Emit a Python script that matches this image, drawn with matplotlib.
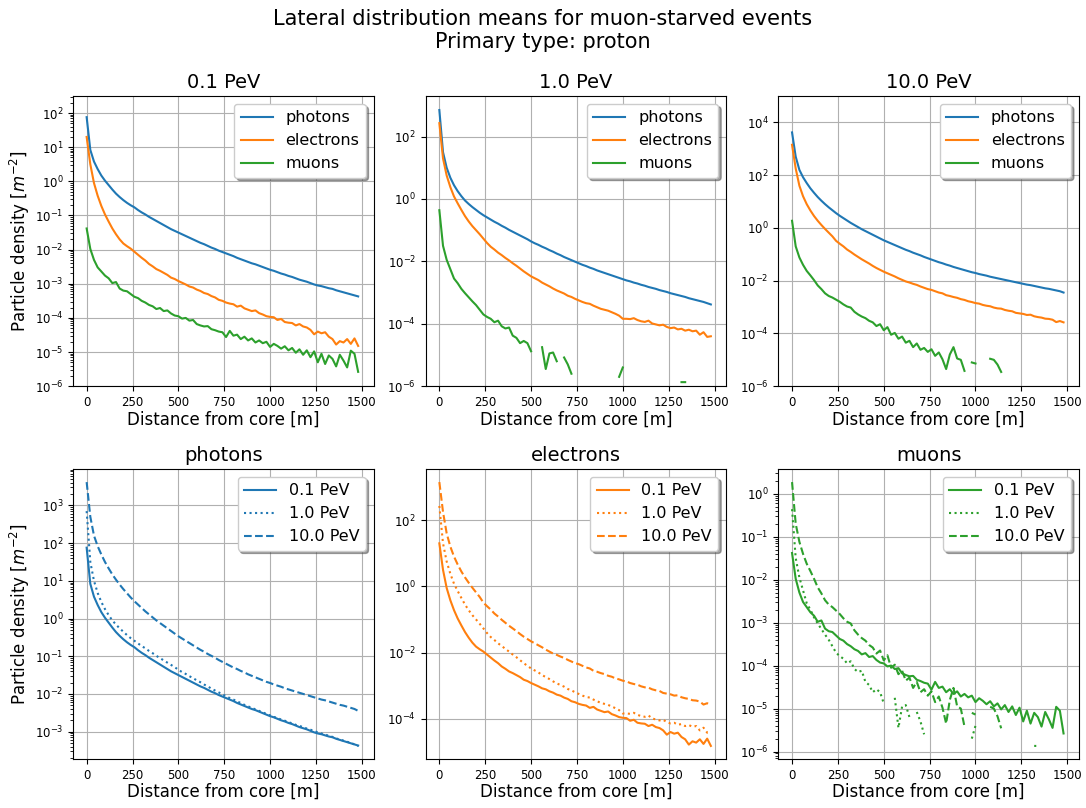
import numpy as np
import matplotlib.pyplot as plt
from matplotlib.ticker import LogLocator, NullLocator

# distance bins [m]
distance = np.arange(0, 1500, 20)
energies = ['0.1 PeV', '1.0 PeV', '10.0 PeV']
particles = ['photons', 'electrons', 'muons']

# log10 of mean particle density [m^-2]
photons_01 = [1.88, 0.92, 0.58, 0.36, 0.17, 0.02, -0.11, -0.24, -0.36, -0.46,
              -0.55, -0.63, -0.70, -0.76, -0.84, -0.91, -0.97, -1.04, -1.10, -1.16,
              -1.22, -1.28, -1.34, -1.40, -1.45, -1.50, -1.55, -1.60, -1.65, -1.70,
              -1.75, -1.80, -1.84, -1.89, -1.94, -1.98, -2.03, -2.07, -2.11, -2.15,
              -2.19, -2.24, -2.28, -2.32, -2.36, -2.40, -2.43, -2.47, -2.51, -2.55,
              -2.59, -2.62, -2.66, -2.70, -2.73, -2.77, -2.80, -2.84, -2.88, -2.91,
              -2.94, -2.98, -3.02, -3.05, -3.07, -3.10, -3.13, -3.15, -3.19, -3.22,
              -3.25, -3.28, -3.31, -3.34, -3.37]
photons_1 = [2.85, 1.50, 1.00, 0.68, 0.44, 0.25, 0.09, -0.05, -0.16, -0.26,
             -0.35, -0.44, -0.52, -0.59, -0.66, -0.73, -0.79, -0.86, -0.92, -0.99,
             -1.05, -1.11, -1.17, -1.23, -1.29, -1.36, -1.42, -1.47, -1.53, -1.58,
             -1.64, -1.69, -1.75, -1.80, -1.86, -1.91, -1.96, -2.01, -2.06, -2.11,
             -2.15, -2.20, -2.24, -2.29, -2.33, -2.37, -2.41, -2.45, -2.49, -2.53,
             -2.57, -2.61, -2.64, -2.68, -2.71, -2.75, -2.78, -2.82, -2.85, -2.88,
             -2.92, -2.95, -2.98, -3.02, -3.05, -3.08, -3.11, -3.14, -3.18, -3.21,
             -3.24, -3.27, -3.30, -3.34, -3.38]
photons_10 = [3.62, 2.70, 2.20, 1.92, 1.70, 1.50, 1.33, 1.17, 1.03, 0.90,
              0.78, 0.67, 0.56, 0.46, 0.37, 0.28, 0.19, 0.11, 0.03, -0.05,
              -0.12, -0.19, -0.26, -0.33, -0.40, -0.47, -0.53, -0.59, -0.65, -0.71,
              -0.77, -0.83, -0.88, -0.94, -0.99, -1.04, -1.10, -1.15, -1.20, -1.25,
              -1.30, -1.34, -1.39, -1.43, -1.48, -1.52, -1.56, -1.60, -1.64, -1.68,
              -1.71, -1.75, -1.78, -1.81, -1.85, -1.88, -1.91, -1.94, -1.97, -2.00,
              -2.03, -2.06, -2.09, -2.12, -2.15, -2.17, -2.20, -2.23, -2.26, -2.29,
              -2.31, -2.34, -2.37, -2.40, -2.45]

electrons_01 = [1.30, 0.50, -0.05, -0.42, -0.72, -0.97, -1.18, -1.38, -1.55, -1.70,
                -1.82, -1.90, -1.97, -2.06, -2.15, -2.24, -2.32, -2.42, -2.49, -2.57,
                -2.62, -2.68, -2.74, -2.82, -2.86, -2.92, -2.97, -3.02, -3.08, -3.11,
                -3.17, -3.21, -3.27, -3.30, -3.36, -3.40, -3.47, -3.50, -3.55, -3.58,
                -3.60, -3.67, -3.64, -3.72, -3.76, -3.80, -3.78, -3.86, -3.90, -3.95,
                -3.97, -3.98, -4.06, -4.03, -4.12, -4.14, -4.15, -4.22, -4.18, -4.25,
                -4.28, -4.35, -4.48, -4.40, -4.45, -4.42, -4.55, -4.62, -4.78, -4.68,
                -4.72, -4.62, -4.76, -4.60, -4.82]
electrons_1 = [2.43, 1.30, 0.75, 0.38, 0.08, -0.14, -0.35, -0.55, -0.72, -0.87,
               -1.00, -1.13, -1.27, -1.41, -1.53, -1.62, -1.72, -1.80, -1.89, -1.97,
               -2.06, -2.14, -2.23, -2.32, -2.40, -2.48, -2.54, -2.60, -2.68, -2.74,
               -2.80, -2.87, -2.93, -2.98, -3.03, -3.10, -3.14, -3.20, -3.25, -3.30,
               -3.34, -3.36, -3.42, -3.47, -3.52, -3.55, -3.58, -3.63, -3.68, -3.74,
               -3.84, -3.84, -3.85, -3.82, -3.88, -3.92, -3.94, -3.90, -3.99, -4.02,
               -4.05, -4.03, -4.10, -4.14, -4.12, -4.18, -4.16, -4.22, -4.19, -4.24,
               -4.22, -4.35, -4.27, -4.42, -4.40]
electrons_10 = [3.15, 2.25, 1.60, 1.20, 0.90, 0.66, 0.45, 0.27, 0.11, -0.04,
                -0.18, -0.32, -0.49, -0.60, -0.70, -0.82, -0.91, -1.01, -1.10, -1.19,
                -1.27, -1.35, -1.44, -1.52, -1.59, -1.66, -1.72, -1.78, -1.84, -1.91,
                -1.97, -2.03, -2.07, -2.12, -2.16, -2.22, -2.27, -2.32, -2.35, -2.40,
                -2.45, -2.48, -2.55, -2.58, -2.62, -2.65, -2.70, -2.73, -2.78, -2.81,
                -2.85, -2.87, -2.92, -2.95, -2.97, -3.02, -3.05, -3.06, -3.11, -3.14,
                -3.16, -3.22, -3.24, -3.26, -3.30, -3.29, -3.35, -3.38, -3.40, -3.44,
                -3.45, -3.48, -3.57, -3.53, -3.58]

nan = np.nan
muons_01 = [-1.38, -1.98, -2.30, -2.52, -2.64, -2.76, -2.84, -2.98, -2.95, -3.14,
            -3.20, -3.22, -3.30, -3.38, -3.42, -3.50, -3.55, -3.62, -3.66, -3.74,
            -3.71, -3.80, -3.78, -3.87, -3.93, -3.95, -4.02, -4.00, -4.08, -4.06,
            -4.18, -4.22, -4.25, -4.24, -4.33, -4.36, -4.40, -4.42, -4.56, -4.38,
            -4.52, -4.49, -4.62, -4.55, -4.66, -4.60, -4.72, -4.66, -4.74, -4.70,
            -4.85, -4.76, -4.82, -4.90, -4.83, -4.95, -4.88, -5.02, -4.92, -5.08,
            -4.95, -5.15, -4.98, -5.30, -5.05, -5.35, -5.10, -5.20, -5.42, -5.08,
            -5.25, -5.45, -4.96, -5.05, -5.58]
muons_1 = [-0.36, -1.50, -1.95, -2.25, -2.55, -2.70, -2.88, -3.02, -3.15, -3.28,
           -3.40, -3.55, -3.70, -3.78, -3.84, -3.95, -3.90, -4.08, -4.15, -4.12,
           -4.38, -4.45, -4.62, -4.55, -4.62, -4.88, nan, nan, -4.75, -5.45,
           -4.95, -4.92, -5.20, nan, -5.08, -5.30, -5.60, nan, nan, nan,
           nan, nan, nan, nan, nan, nan, nan, nan, nan, -5.70,
           -5.40, nan, nan, nan, nan, nan, nan, nan, nan, nan,
           nan, nan, nan, nan, nan, nan, -5.87, -5.87, nan, nan,
           nan, nan, nan, nan, nan]
muons_10 = [0.27, -0.70, -1.12, -1.40, -1.63, -1.80, -1.98, -2.18, -2.32, -2.48,
            -2.58, -2.64, -2.72, -2.80, -2.90, -2.98, -3.02, -3.18, -3.28, -3.36,
            -3.42, -3.52, -3.58, -3.72, -3.65, -3.88, -3.76, -4.05, -3.98, -4.20,
            -4.12, -4.35, -4.28, -4.52, -4.38, -4.62, -4.55, -4.70, -4.60, -4.85,
            -4.72, -4.98, -5.35, -4.80, -4.52, -4.95, -5.00, -5.42, nan, -5.10,
            -5.14, nan, nan, nan, -4.96, -5.00, -5.18, -5.46, nan, nan,
            nan, nan, nan, nan, nan, nan, nan, nan, nan, nan,
            nan, nan, nan, nan, nan]

data = {
    'photons': [photons_01, photons_1, photons_10],
    'electrons': [electrons_01, electrons_1, electrons_10],
    'muons': [muons_01, muons_1, muons_10],
}
colors = {'photons': 'C0', 'electrons': 'C1', 'muons': 'C2'}
styles = ['-', ':', '--']
top_ylim = [10**2.5, 10**3.3, 10**5.0]

fig, axes = plt.subplots(2, 3, figsize=(10.86, 8.08), dpi=100)
fig.subplots_adjust(left=0.0672, right=0.9936, bottom=0.0605, top=0.8812,
                    wspace=0.173, hspace=0.285)
fig.suptitle('Lateral distribution means for muon-starved events\nPrimary type: proton',
             fontsize=15, y=0.989)

# top row: one energy, all particles
for j, en in enumerate(energies):
    ax = axes[0, j]
    for p in particles:
        ax.plot(distance, np.power(10.0, data[p][j]), color=colors[p], label=p)
    ax.set_yscale('log')
    ax.set_ylim(1e-6, top_ylim[j])
    ax.set_title(en, fontsize=14)

# bottom row: one particle, all energies
for j, p in enumerate(particles):
    ax = axes[1, j]
    for k, en in enumerate(energies):
        ax.plot(distance, np.power(10.0, data[p][k]), color=colors[p],
                linestyle=styles[k], label=en)
    ax.set_yscale('log')
    ax.set_title(p, fontsize=14)

# every second decade labelled on the wide-range panels
for ax in [axes[0, 1], axes[0, 2], axes[1, 1]]:
    ax.yaxis.set_major_locator(LogLocator(base=100))
    ax.yaxis.set_minor_locator(NullLocator())

for ax in axes.flat:
    ax.set_xlim(-74.5, 1564.5)
    ax.grid(True)
    ax.legend(loc='upper right', fontsize=11.5, shadow=True)
    ax.set_xlabel('Distance from core [m]', fontsize=12, labelpad=1)
    ax.tick_params(labelsize=8.5)
for ax in axes[:, 0]:
    ax.set_ylabel('Particle density [$m^{-2}$]', fontsize=12, labelpad=2)

fig.savefig('out.png', dpi=100)
